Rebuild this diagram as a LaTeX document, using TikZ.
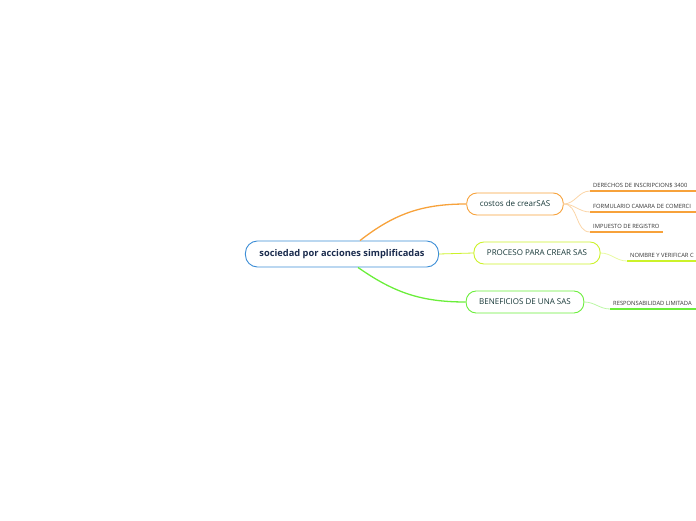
\documentclass[tikz,border=0pt]{standalone}
\usepackage{fontspec}
\setmainfont{Open Sans}
\usepackage{tikz}

\definecolor{rootblue}{HTML}{3D8ED6}
\definecolor{roottext}{HTML}{1B2C4E}
\definecolor{childtext}{HTML}{173838}
\definecolor{costorange}{HTML}{F7A23B}
\definecolor{procyellow}{HTML}{CCF22A}
\definecolor{benefgreen}{HTML}{6AEE3A}

\begin{document}
\begin{tikzpicture}[
        x=1pt, y=1pt,
        every node/.style={font=\footnotesize},
        central/.style={
            rectangle,
            rounded corners=12pt,
            draw=rootblue,
            line width=0.9pt,
            fill=white,
            minimum height=26pt,
            inner xsep=14pt,
            text=roottext,
            font=\fontsize{9.3}{11}\selectfont\bfseries
        },
        branch/.style={
            rectangle,
            rounded corners=10pt,
            draw=#1,
            line width=0.9pt,
            fill=white,
            minimum height=22pt,
            inner xsep=13pt,
            text=childtext,
            font=\fontsize{8}{10}\selectfont
        },
        leaf/.style={
            anchor=south west,
            inner xsep=3pt,
            inner ysep=3pt,
            text=black!80,
            font=\fontsize{5.8}{7}\selectfont
        },
        link/.style={line width=1.3pt,draw=#1},
        twig/.style={line width=0.8pt,draw=#1!45},
        underline/.style={line width=1.8pt,draw=#1}
    ]
        \useasboundingbox (0,0) rectangle (696,520);
        \clip (0,0) rectangle (696,520);
        \coordinate (rightedge) at (696,0);

        \node[central] (root) at (342,266) {sociedad por acciones simplificadas};

        \node[branch=costorange] (costos) at (515,316) {costos de crearSAS};
        \node[branch=procyellow] (proceso) at (537,267) {PROCESO PARA CREAR SAS};
        \node[branch=benefgreen] (beneficios) at (525,218) {BENEFICIOS DE UNA SAS};

        \node[leaf] (derechos) at (590,329) {DERECHOS DE INSCRIPCION\$ 3400};
        \node[leaf] (formulario) at (590,308) {FORMULARIO CAMARA DE COMERCI};
        \node[leaf] (impuesto) at (590,288) {IMPUESTO DE REGISTRO};
        \node[leaf] (nombre) at (627,259) {NOMBRE Y VERIFICAR C};
        \node[leaf] (responsab) at (610,211) {RESPONSABILIDAD LIMITADA};

        % main branches
        \draw[link=costorange] ([xshift=18pt]root.north) to[out=38,in=180] (costos.west);
        \draw[link=procyellow,line width=0.8pt] (root.east) -- (proceso.west);
        \draw[link=benefgreen] ([xshift=16pt]root.south) to[out=-35,in=180] (beneficios.west);

        % sub branches
        \foreach \sub in {derechos,formulario,impuesto}
            \draw[twig=costorange] (costos.east) to[out=0,in=180] (\sub.south west);
        \draw[twig=procyellow] (proceso.east) to[out=0,in=180] (nombre.south west);
        \draw[twig=benefgreen] (beneficios.east) to[out=0,in=180] (responsab.south west);

        % underlines, cut ones run to the edge
        \foreach \sub in {derechos,formulario}
            \draw[underline=costorange] (\sub.south west) -- (\sub.south west -| rightedge);
        \draw[underline=costorange] (impuesto.south west) -- (impuesto.south east);
        \draw[underline=procyellow] (nombre.south west) -- (nombre.south west -| rightedge);
        \draw[underline=benefgreen] (responsab.south west) -- (responsab.south west -| rightedge);
    \end{tikzpicture}
\end{document}
